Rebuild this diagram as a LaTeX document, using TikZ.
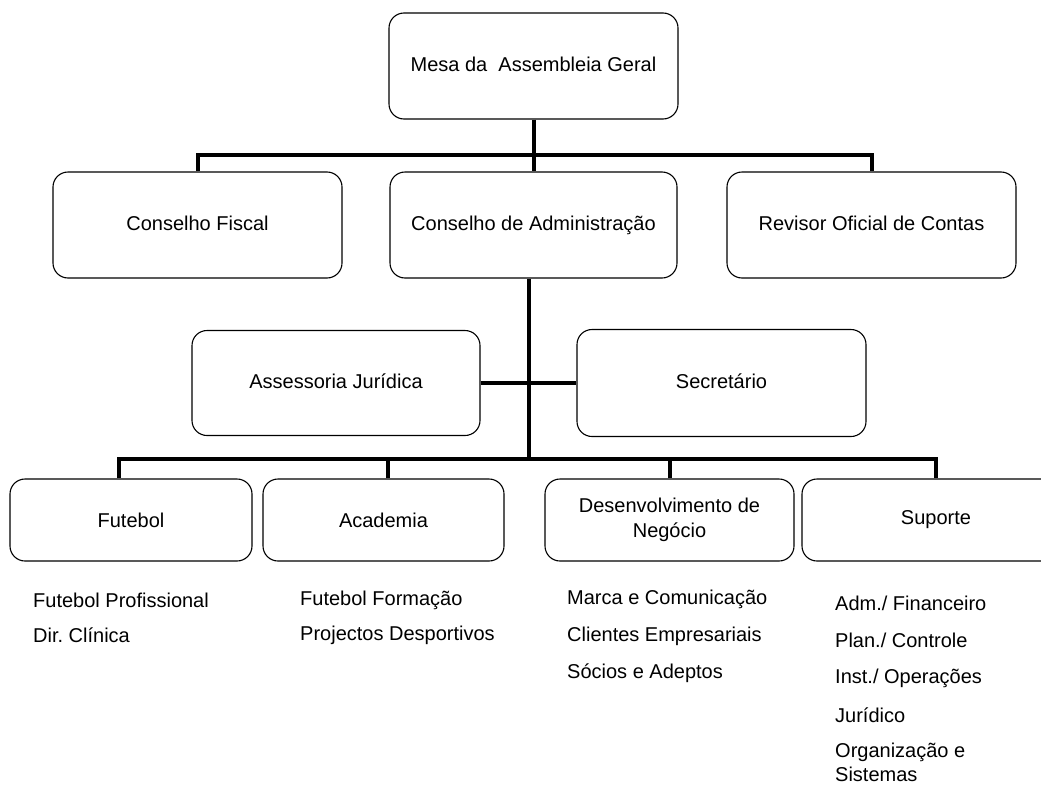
\documentclass[tikz,border=0pt]{standalone}
\usepackage{fontspec}
\setmainfont{Liberation Sans}
\usetikzlibrary{positioning, calc}
\frenchspacing

\begin{document}
\begin{tikzpicture}[
  x=1pt, y=-1pt,
  font=\fontsize{20}{25}\selectfont,
  orgbox/.style={draw=black, line width=1.1pt, rounded corners=15pt, align=center,
    minimum width=289pt, minimum height=106pt, inner sep=2pt,
    text height=14.5pt, text depth=4.5pt},
  unit/.style={draw=black, line width=1.1pt, rounded corners=15pt, align=center,
    minimum height=82pt, inner sep=2pt},
  item/.style={anchor=west, align=left, inner sep=0pt},
  bus/.style={draw=black, line width=4pt}
]
\useasboundingbox (0,0) rectangle (1041,787);
\clip (0,0) rectangle (1041,787);

% --- top: general assembly ---
\node[orgbox] (mesa) at (533.5,66) {Mesa da \ Assembleia Geral};

% --- second level: three councils ---
\node[orgbox] (fiscal)  at (197.5,225) {Conselho Fiscal};
\node[orgbox, minimum width=287pt] (admin) at (533.5,225) {Conselho de Administração};
\node[orgbox] (revisor) at (871.5,225) {Revisor Oficial de Contas};

\coordinate (bus1) at (534,155);
\draw[bus] (mesa.south) -- (admin.north);
\draw[bus] (fiscal.north) |- (bus1) -| (revisor.north);

% --- staff boxes beside the main stem ---
\node[orgbox, minimum width=288pt, minimum height=105pt] (assess) at (336,383) {Assessoria Jurídica};
\node[orgbox, minimum height=107pt] (secret) at (721.5,383) {Secretário};

\coordinate (bus2) at (529,459);
\draw[bus] (admin.south -| bus2) -- (bus2);
\draw[bus] (assess.east) -- (secret.west);

% --- bottom level: four business units ---
\node[unit, minimum width=242pt] (futebol)  at (131,520)   {Futebol};
\node[unit, minimum width=241pt] (academia) at (383.5,520) {Academia};
\node[unit, minimum width=249pt] (desenv)   at (669.5,520) {Desenvolvimento de\\Negócio};
\node[unit, minimum width=268pt] (suporte)  at (936,520)   {Suporte};

\draw[bus] (futebol.north) ++(-12,0) |- (bus2) -| (suporte.north);
\draw[bus] (academia.north) ++(4.5,0) |- (bus2);
\draw[bus] (desenv.north) |- (bus2);

% --- departments under each unit ---
\node[item] (fut1) at (33,600) {Futebol Profissional};
\node[item] (fut2) at (33,635) {Dir. Clínica};

\node[item] (aca1) at (300,600) {Futebol Formação};
\node[item] (aca2) at (300,635) {Projectos Desportivos};

\node[item] (des1) at (567,599) {Marca e Comunicação};
\node[item] (des2) at (567,636) {Clientes Empresariais};
\node[item] (des3) at (567,673) {Sócios e Adeptos};

\node[item] (sup1) at (835,603) {Adm./ Financeiro};
\node[item] (sup2) at (835,640) {Plan./ Controle};
\node[item] (sup3) at (835,678) {Inst./ Operações};
\node[item] (sup4) at (835,715) {Jurídico};
\node[item, font=\fontsize{20}{24}\selectfont] (sup5) at (835,762) {Organização e\\Sistemas};

\end{tikzpicture}
\end{document}
